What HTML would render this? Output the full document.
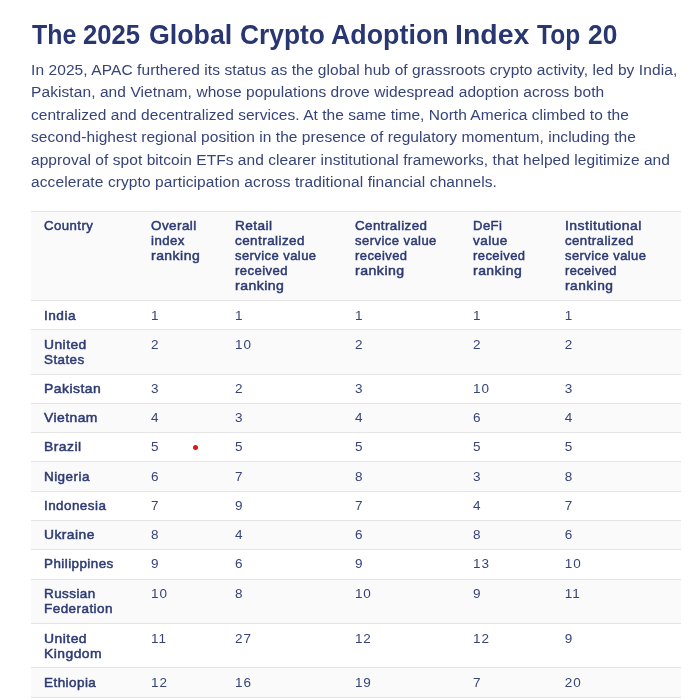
<!DOCTYPE html>
<html><head><meta charset="utf-8">
<style>
html,body{margin:0;padding:0;background:#fff;}
body{width:693px;height:698px;overflow:hidden;position:relative;font-family:"Liberation Sans",sans-serif;}
.wrap{position:absolute;left:0;top:0;width:693px;height:698px;will-change:transform;}
.a{position:absolute;white-space:nowrap;}
h1{position:absolute;margin:0;font-weight:bold;white-space:nowrap;}
.bg{position:absolute;left:31px;width:650px;}
.bd{position:absolute;left:31px;width:650px;height:1px;background:#e4e4e4;}
.t{position:absolute;white-space:nowrap;font-size:13.50px;line-height:15px;}
.h{font-weight:normal;color:#2d3a73;-webkit-text-stroke:0.5px currentColor;letter-spacing:0.45px;}
.n{color:#37447a;letter-spacing:0.9px;}
</style></head><body><div class="wrap">

<div class="a" style="left:31.50px;top:18.34px;font-size:27px;line-height:34px;font-weight:bold;color:#283671;transform-origin:0 0;transform:scaleX(0.9213)">The</div>
<div class="a" style="left:83.25px;top:18.34px;font-size:27px;line-height:34px;font-weight:bold;color:#283671;transform-origin:0 0;transform:scaleX(0.9492)">2025</div>
<div class="a" style="left:148.51px;top:18.34px;font-size:27px;line-height:34px;font-weight:bold;color:#283671;transform-origin:0 0;transform:scaleX(0.9915)">Global</div>
<div class="a" style="left:239.92px;top:18.34px;font-size:27px;line-height:34px;font-weight:bold;color:#283671;transform-origin:0 0;transform:scaleX(0.9753)">Crypto</div>
<div class="a" style="left:331.21px;top:18.34px;font-size:27px;line-height:34px;font-weight:bold;color:#283671;transform-origin:0 0;transform:scaleX(0.9931)">Adoption</div>
<div class="a" style="left:454.89px;top:18.34px;font-size:27px;line-height:34px;font-weight:bold;color:#283671;transform-origin:0 0;transform:scaleX(1.0529)">Index</div>
<div class="a" style="left:536.80px;top:18.34px;font-size:27px;line-height:34px;font-weight:bold;color:#283671;transform-origin:0 0;transform:scaleX(0.9085)">Top</div>
<div class="a" style="left:587.92px;top:18.34px;font-size:27px;line-height:34px;font-weight:bold;color:#283671;transform-origin:0 0;transform:scaleX(0.9750)">20</div>
<div class="a" style="left:31px;top:58.63px;font-size:15.50px;line-height:22px;color:#36447a;letter-spacing:0.087px">In 2025, APAC furthered its status as the global hub of grassroots crypto activity, led by India,</div>
<div class="a" style="left:31px;top:81.13px;font-size:15.50px;line-height:22px;color:#36447a;letter-spacing:0.085px">Pakistan, and Vietnam, whose populations drove widespread adoption across both</div>
<div class="a" style="left:31px;top:103.63px;font-size:15.50px;line-height:22px;color:#36447a;letter-spacing:0.040px">centralized and decentralized services. At the same time, North America climbed to the</div>
<div class="a" style="left:31px;top:126.13px;font-size:15.50px;line-height:22px;color:#36447a;letter-spacing:0.050px">second-highest regional position in the presence of regulatory momentum, including the</div>
<div class="a" style="left:31px;top:148.63px;font-size:15.50px;line-height:22px;color:#36447a;letter-spacing:0.061px">approval of spot bitcoin ETFs and clearer institutional frameworks, that helped legitimize and</div>
<div class="a" style="left:31px;top:171.13px;font-size:15.50px;line-height:22px;color:#36447a;letter-spacing:0.097px">accelerate crypto participation across traditional financial channels.</div>
<div class="bg" style="top:211px;height:89px;background:#fafafa"></div>
<div class="bg" style="top:329px;height:45px;background:#fafafa"></div>
<div class="bg" style="top:403px;height:29px;background:#fafafa"></div>
<div class="bg" style="top:461px;height:30px;background:#fafafa"></div>
<div class="bg" style="top:520px;height:29px;background:#fafafa"></div>
<div class="bg" style="top:579px;height:44px;background:#fafafa"></div>
<div class="bg" style="top:667px;height:30px;background:#fafafa"></div>
<div class="bd" style="top:211px"></div>
<div class="bd" style="top:300px"></div>
<div class="bd" style="top:329px"></div>
<div class="bd" style="top:374px"></div>
<div class="bd" style="top:403px"></div>
<div class="bd" style="top:432px"></div>
<div class="bd" style="top:461px"></div>
<div class="bd" style="top:491px"></div>
<div class="bd" style="top:520px"></div>
<div class="bd" style="top:549px"></div>
<div class="bd" style="top:579px"></div>
<div class="bd" style="top:623px"></div>
<div class="bd" style="top:667px"></div>
<div class="bd" style="top:697px"></div>
<div class="t h" style="left:44.0px;top:217.82px;transform-origin:0 0;transform:scaleX(0.9781)">Country</div>
<div class="t h" style="left:151.0px;top:217.82px;transform-origin:0 0;transform:scaleX(0.9957)">Overall</div>
<div class="t h" style="left:151.0px;top:232.82px;transform-origin:0 0;transform:scaleX(0.9825)">index</div>
<div class="t h" style="left:151.0px;top:247.82px;transform-origin:0 0;transform:scaleX(1.0364)">ranking</div>
<div class="t h" style="left:235.0px;top:217.82px;transform-origin:0 0;transform:scaleX(1.0091)">Retail</div>
<div class="t h" style="left:235.0px;top:232.82px;transform-origin:0 0;transform:scaleX(0.9958)">centralized</div>
<div class="t h" style="left:235.0px;top:247.82px;transform-origin:0 0;transform:scaleX(0.9632)">service value</div>
<div class="t h" style="left:235.0px;top:262.82px;transform-origin:0 0;transform:scaleX(0.9706)">received</div>
<div class="t h" style="left:235.0px;top:277.82px;transform-origin:0 0;transform:scaleX(1.0406)">ranking</div>
<div class="t h" style="left:354.9px;top:217.82px;transform-origin:0 0;transform:scaleX(0.9889)">Centralized</div>
<div class="t h" style="left:354.9px;top:232.82px;transform-origin:0 0;transform:scaleX(0.9667)">service value</div>
<div class="t h" style="left:354.9px;top:247.82px;transform-origin:0 0;transform:scaleX(0.9594)">received</div>
<div class="t h" style="left:354.9px;top:262.82px;transform-origin:0 0;transform:scaleX(1.0480)">ranking</div>
<div class="t h" style="left:473.1px;top:217.82px;transform-origin:0 0;transform:scaleX(0.9695)">DeFi</div>
<div class="t h" style="left:473.1px;top:232.82px;transform-origin:0 0;transform:scaleX(1.0033)">value</div>
<div class="t h" style="left:473.1px;top:247.82px;transform-origin:0 0;transform:scaleX(0.9612)">received</div>
<div class="t h" style="left:473.1px;top:262.82px;transform-origin:0 0;transform:scaleX(1.0364)">ranking</div>
<div class="t h" style="left:564.8px;top:217.82px;transform-origin:0 0;transform:scaleX(1.0375)">Institutional</div>
<div class="t h" style="left:564.8px;top:232.82px;transform-origin:0 0;transform:scaleX(0.9798)">centralized</div>
<div class="t h" style="left:564.8px;top:247.82px;transform-origin:0 0;transform:scaleX(0.9620)">service value</div>
<div class="t h" style="left:564.8px;top:262.82px;transform-origin:0 0;transform:scaleX(0.9483)">received</div>
<div class="t h" style="left:564.8px;top:277.82px;transform-origin:0 0;transform:scaleX(1.0198)">ranking</div>
<div class="t h" style="left:44.0px;top:307.82px;transform-origin:0 0;transform:scaleX(1.0135)">India</div>
<div class="t n" style="left:151.0px;top:307.82px">1</div>
<div class="t n" style="left:235.0px;top:307.82px">1</div>
<div class="t n" style="left:354.9px;top:307.82px">1</div>
<div class="t n" style="left:473.1px;top:307.82px">1</div>
<div class="t n" style="left:564.8px;top:307.82px">1</div>
<div class="t h" style="left:44.0px;top:336.82px;transform-origin:0 0;transform:scaleX(1.0250)">United</div>
<div class="t h" style="left:44.0px;top:351.82px;transform-origin:0 0;transform:scaleX(0.9925)">States</div>
<div class="t n" style="left:151.0px;top:336.82px">2</div>
<div class="t n" style="left:235.0px;top:336.82px">10</div>
<div class="t n" style="left:354.9px;top:336.82px">2</div>
<div class="t n" style="left:473.1px;top:336.82px">2</div>
<div class="t n" style="left:564.8px;top:336.82px">2</div>
<div class="t h" style="left:44.0px;top:380.82px;transform-origin:0 0;transform:scaleX(1.0317)">Pakistan</div>
<div class="t n" style="left:151.0px;top:380.82px">3</div>
<div class="t n" style="left:235.0px;top:380.82px">2</div>
<div class="t n" style="left:354.9px;top:380.82px">3</div>
<div class="t n" style="left:473.1px;top:380.82px">10</div>
<div class="t n" style="left:564.8px;top:380.82px">3</div>
<div class="t h" style="left:44.0px;top:409.82px;transform-origin:0 0;transform:scaleX(1.0271)">Vietnam</div>
<div class="t n" style="left:151.0px;top:409.82px">4</div>
<div class="t n" style="left:235.0px;top:409.82px">3</div>
<div class="t n" style="left:354.9px;top:409.82px">4</div>
<div class="t n" style="left:473.1px;top:409.82px">6</div>
<div class="t n" style="left:564.8px;top:409.82px">4</div>
<div class="t h" style="left:44.0px;top:439.32px;transform-origin:0 0;transform:scaleX(1.0286)">Brazil</div>
<div class="t n" style="left:151.0px;top:439.32px">5</div>
<div class="t n" style="left:235.0px;top:439.32px">5</div>
<div class="t n" style="left:354.9px;top:439.32px">5</div>
<div class="t n" style="left:473.1px;top:439.32px">5</div>
<div class="t n" style="left:564.8px;top:439.32px">5</div>
<div class="t h" style="left:44.0px;top:468.82px;transform-origin:0 0;transform:scaleX(0.9980)">Nigeria</div>
<div class="t n" style="left:151.0px;top:468.82px">6</div>
<div class="t n" style="left:235.0px;top:468.82px">7</div>
<div class="t n" style="left:354.9px;top:468.82px">8</div>
<div class="t n" style="left:473.1px;top:468.82px">3</div>
<div class="t n" style="left:564.8px;top:468.82px">8</div>
<div class="t h" style="left:44.0px;top:497.82px;transform-origin:0 0;transform:scaleX(0.9954)">Indonesia</div>
<div class="t n" style="left:151.0px;top:497.82px">7</div>
<div class="t n" style="left:235.0px;top:497.82px">9</div>
<div class="t n" style="left:354.9px;top:497.82px">7</div>
<div class="t n" style="left:473.1px;top:497.82px">4</div>
<div class="t n" style="left:564.8px;top:497.82px">7</div>
<div class="t h" style="left:44.0px;top:526.82px;transform-origin:0 0;transform:scaleX(1.0231)">Ukraine</div>
<div class="t n" style="left:151.0px;top:526.82px">8</div>
<div class="t n" style="left:235.0px;top:526.82px">4</div>
<div class="t n" style="left:354.9px;top:526.82px">6</div>
<div class="t n" style="left:473.1px;top:526.82px">8</div>
<div class="t n" style="left:564.8px;top:526.82px">6</div>
<div class="t h" style="left:44.0px;top:555.82px;transform-origin:0 0;transform:scaleX(0.9929)">Philippines</div>
<div class="t n" style="left:151.0px;top:555.82px">9</div>
<div class="t n" style="left:235.0px;top:555.82px">6</div>
<div class="t n" style="left:354.9px;top:555.82px">9</div>
<div class="t n" style="left:473.1px;top:555.82px">13</div>
<div class="t n" style="left:564.8px;top:555.82px">10</div>
<div class="t h" style="left:44.0px;top:585.82px;transform-origin:0 0;transform:scaleX(0.9962)">Russian</div>
<div class="t h" style="left:44.0px;top:600.82px;transform-origin:0 0;transform:scaleX(0.9986)">Federation</div>
<div class="t n" style="left:151.0px;top:585.82px">10</div>
<div class="t n" style="left:235.0px;top:585.82px">8</div>
<div class="t n" style="left:354.9px;top:585.82px">10</div>
<div class="t n" style="left:473.1px;top:585.82px">9</div>
<div class="t n" style="left:564.8px;top:585.82px">11</div>
<div class="t h" style="left:44.0px;top:630.82px;transform-origin:0 0;transform:scaleX(1.0325)">United</div>
<div class="t h" style="left:44.0px;top:645.82px;transform-origin:0 0;transform:scaleX(1.0291)">Kingdom</div>
<div class="t n" style="left:151.0px;top:630.82px">11</div>
<div class="t n" style="left:235.0px;top:630.82px">27</div>
<div class="t n" style="left:354.9px;top:630.82px">12</div>
<div class="t n" style="left:473.1px;top:630.82px">12</div>
<div class="t n" style="left:564.8px;top:630.82px">9</div>
<div class="t h" style="left:44.0px;top:674.82px;transform-origin:0 0;transform:scaleX(0.9981)">Ethiopia</div>
<div class="t n" style="left:151.0px;top:674.82px">12</div>
<div class="t n" style="left:235.0px;top:674.82px">16</div>
<div class="t n" style="left:354.9px;top:674.82px">19</div>
<div class="t n" style="left:473.1px;top:674.82px">7</div>
<div class="t n" style="left:564.8px;top:674.82px">20</div>
<div style="position:absolute;left:193px;top:445px;width:5px;height:5px;border-radius:50%;background:#e31414"></div>
</div></body></html>
